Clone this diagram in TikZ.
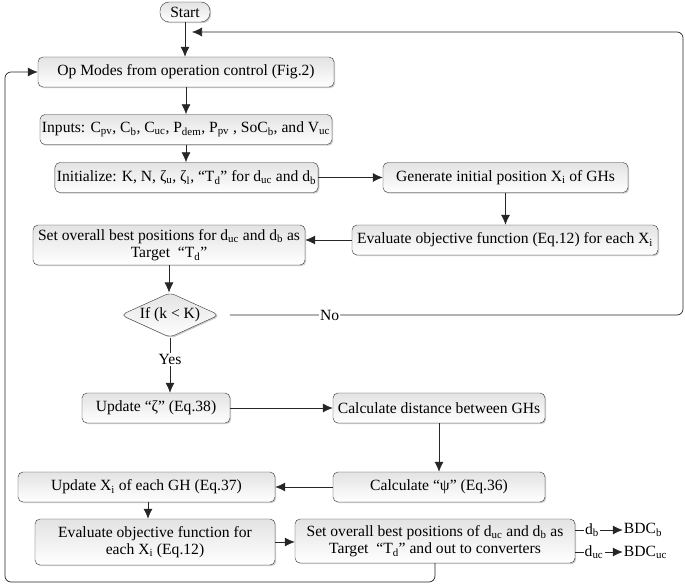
\documentclass[tikz,border=0pt]{standalone}
\usepackage{fontspec}
\setmainfont{Liberation Serif}
\usetikzlibrary{positioning,shapes.geometric,shadows,arrows.meta}

\begin{document}
\begin{tikzpicture}[
x=1pt,y=-1pt,
font=\fontsize{15.6}{17.5}\selectfont,
stepbox/.style={
  draw=black!80,
  rounded corners=5pt,
  top color=gray!22,
  bottom color=white,
  drop shadow={opacity=0.4,shadow xshift=1.2pt,shadow yshift=-1.2pt},
  align=center,
  inner sep=2pt,
  minimum height=30pt
  },
startbox/.style={
  stepbox,
  rounded corners=9pt,
  minimum height=20pt,
  minimum width=50pt
  },
decision/.style={
  draw=black!80,
  diamond,
  aspect=2.2,
  rounded corners=5pt,
  top color=gray!22,
  bottom color=white,
  drop shadow={opacity=0.4,shadow xshift=1.2pt,shadow yshift=-1.2pt},
  inner sep=1pt,
  minimum width=96pt,
  minimum height=44pt
  },
flow/.style={draw=black!85,line width=0.7pt},
loop/.style={flow,rounded corners=6pt},
plain/.style={inner sep=1pt},
>={Latex[length=10pt,width=9pt]}
]
\useasboundingbox (0,0) rectangle (685,588);

\node[startbox] (start) at (185,12) {Start};
\node[stepbox,minimum width=296pt] (opmodes) at (186,72) {Op Modes from operation control (Fig.2)};
\node[stepbox,minimum width=288pt] (inputs) at (186,129.5) {Inputs: C\textsubscript{pv}, C\textsubscript{b}, C\textsubscript{uc}, P\textsubscript{dem}, P\textsubscript{pv} , SoC\textsubscript{b}, and V\textsubscript{uc}};
\node[stepbox,minimum width=263pt] (init) at (186.5,177.5) {Initialize: K, N, ζ\textsubscript{u}, ζ\textsubscript{l}, “T\textsubscript{d}” for d\textsubscript{uc} and d\textsubscript{b}};
\node[stepbox,minimum width=245pt] (generate) at (505.5,177.5) {Generate initial position X\textsubscript{i} of GHs};
\node[stepbox,minimum width=306pt] (evalx) at (505,240) {Evaluate objective function (Eq.12) for each X\textsubscript{i}};
\node[stepbox,minimum width=272pt,minimum height=40pt] (target) at (169,245) {Set overall best positions for d\textsubscript{uc} and d\textsubscript{b} as\\Target \ “T\textsubscript{d}”};
\node[decision] (check) at (170,315) {If (k < K)};
\node[stepbox,minimum width=148pt] (updzeta) at (156,408) {Update “ζ” (Eq.38)};
\node[stepbox,minimum width=212pt] (dist) at (439,408) {Calculate distance between GHs};
\node[stepbox,minimum width=212pt] (psi) at (439,487) {Calculate “ψ” (Eq.36)};
\node[stepbox,minimum width=257pt] (updx) at (146.5,487) {Update X\textsubscript{i} of each GH (Eq.37)};
\node[stepbox,minimum width=240pt,minimum height=46pt] (evalobj) at (155,542) {Evaluate objective function for\\each X\textsubscript{i} (Eq.12)};
\node[stepbox,minimum width=280pt,minimum height=44pt] (best) at (435,541) {Set overall best positions of d\textsubscript{uc} and d\textsubscript{b} as\\Target \ “T\textsubscript{d}” and out to converters};

\node[plain] (db) at (592,530) {d\textsubscript{b}};
\node[plain] (bdcb) at (643,530) {BDC\textsubscript{b}};
\node[plain] (duc) at (594,552) {d\textsubscript{uc}};
\node[plain,anchor=west] (bdcuc) at (bdcb.west |- duc) {BDC\textsubscript{uc}};

\coordinate (nostart) at (230,315);
\coordinate (noend) at (192,32);

\foreach \from/\to in {start/opmodes,opmodes/inputs,inputs/init,generate/evalx,target/check,dist/psi}
  \draw[flow,->] (\from.south) -- (\from.south |- \to.north);
\foreach \from/\to in {init/generate,updzeta/dist,evalobj/best}
  \draw[flow,->] (\from.east) -- (\to.west |- \from.east);
\foreach \from/\to in {evalx/target,psi/updx}
  \draw[flow,->] (\from.west) -- (\to.east |- \from.west);
\draw[flow,->] (updx.south -| 148,0) -- (148,0 |- evalobj.north);

\draw[flow,->] (check.south) -- node[fill=white,inner sep=1pt,pos=0.4] {Yes} (check.south |- updzeta.north);
\draw[loop,->] (nostart) -- node[fill=white,inner sep=1pt,pos=0.22] {No} (683,315) -- (683,32) -- (noend);
\draw[loop,->] (best.south) -- (best.south |- 0,582) -- (5,582) -- (5,72) -- (opmodes.west);

\draw[flow] (best.east |- db) -- (db.west);
\draw[flow,->] (db.east) -- (bdcb.west);
\draw[flow] (best.east |- duc) -- (duc.west);
\draw[flow,->] (duc.east) -- (bdcuc.west);

\end{tikzpicture}
\end{document}
